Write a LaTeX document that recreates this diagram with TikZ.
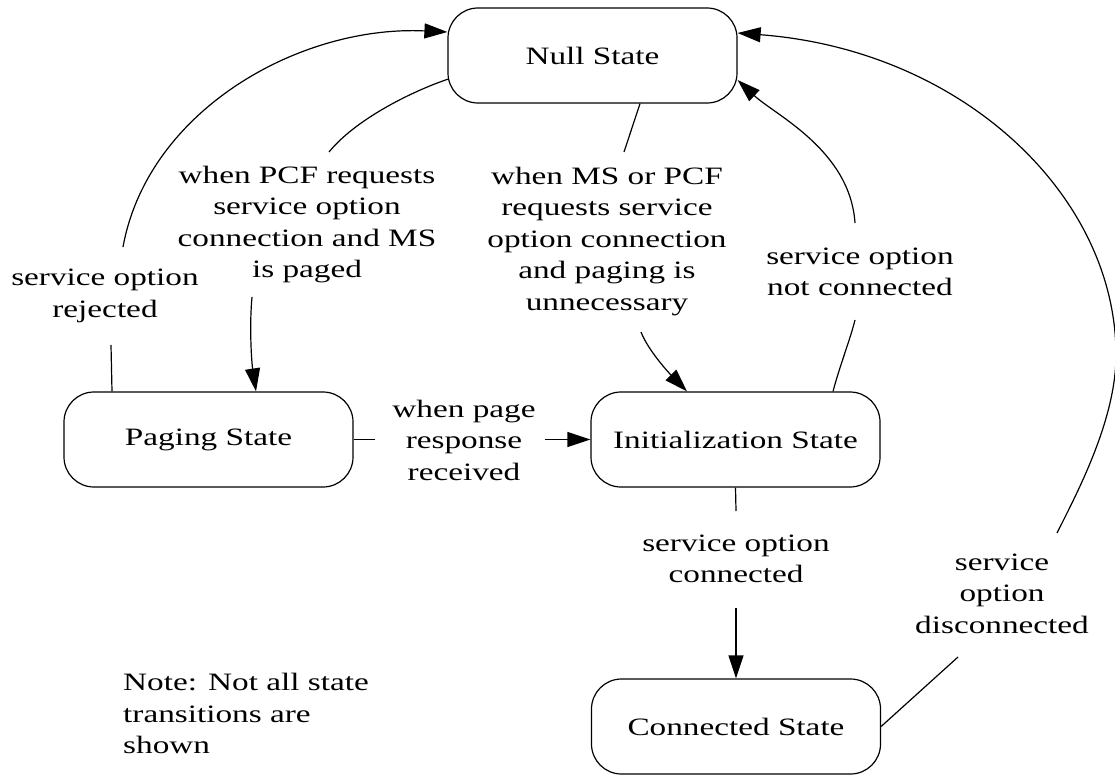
\documentclass[tikz,border=0pt]{standalone}
\usepackage{fontspec}
\setmainfont{Liberation Serif}[FakeStretch=1.33]
\usetikzlibrary{arrows.meta,calc}
\begin{document}
\begin{tikzpicture}[x=1pt,y=-1pt,
  every node/.style={font=\fontsize{25}{31.5}\selectfont},
  statebox/.style={draw, line width=1.2pt, rounded corners=30pt, minimum width=289pt, minimum height=95pt, inner sep=0pt},
  edge/.style={line width=1.2pt},
  arr/.style={edge, -{Triangle[length=23pt,width=15pt]}},
  lbl/.style={align=center, inner sep=0pt}]
\useasboundingbox (0,0) rectangle (1115,776);
% states
\node[statebox] (null) at (592.5,55.5) {Null State};
\node[statebox] (paging) at (208.5,439.5) {Paging State};
\node[statebox] (init) at (735.5,439.5) {Initialization State};
\node[statebox] (connected) at (736,726.5) {Connected State};
% labels
\node[lbl] (lrej) at (105,296) {service option\\rejected};
\node[lbl] (lpcf) at (307,224.5) {when PCF requests\\service option\\connection and MS\\is paged};
\node[lbl] (lpage) at (464,440) {when page\\response\\received};
\node[lbl] (lunn) at (607,241.5) {when MS or PCF\\requests service\\option connection\\and paging is\\unnecessary};
\node[lbl] (lnc) at (860,272) {service option\\not connected};
\node[lbl] (lcon) at (736,559) {service option\\connected};
\node[lbl] (ldis) at (1002,593.5) {service\\option\\disconnected};
\node[align=left, anchor=west, inner sep=0pt] (note) at (123,713.5) {Note: Not all state\\transitions are\\shown};
% free ends
\coordinate (rejL) at (111,345);
\coordinate (rejU) at (123,247);
\coordinate (pcfU) at (329,152);
\coordinate (pcfL) at (252,297);
\coordinate (pgR) at (375,439.5);
\coordinate (pgL) at (545,439.5);
\coordinate (unU) at (624,152);
\coordinate (unL) at (641,332);
\coordinate (ncL) at (855,320);
\coordinate (ncU) at (855,223);
\coordinate (cnU) at (736,511);
\coordinate (cnL) at (736,608);
\coordinate (dcL) at (958,657);
\coordinate (dcU) at (1057,533);
\coordinate (dcM) at (1116,355);
% service option rejected
\draw[edge] ($(paging.north)+(-96.5,0)$) -- (rejL);
\draw[arr] (rejU) .. controls (148,110) and (300,25) .. ($(null.west)+(0,-23.5)$);
% PCF requests, MS paged
\draw[edge] ($(null.west)+(1,23.5)$) .. controls (410,92) and (355,120) .. (pcfU);
\draw[arr] (pcfL) .. controls (249,330) and (252,365) .. ($(paging.north)+(47.5,0)$);
% page response
\draw[edge] (paging.east) -- (pgR);
\draw[arr] (pgL) -- (init.west);
% paging unnecessary
\draw[edge] ($(null.south)+(47.5,0)$) -- (unU);
\draw[arr] (unL) .. controls (648,350) and (668,372) .. ($(init.north)+(-48.5,0)$);
% not connected
\draw[edge] ($(init.north)+(97.5,0)$) .. controls (840,365) and (850,340) .. (ncL);
\draw[arr] (ncU) .. controls (850,150) and (775,115) .. ($(null.east)+(0,24.5)$);
% connected
\draw[edge] (init.south) -- (cnU);
\draw[arr] (cnL) -- (connected.north);
% disconnected
\draw[edge] (connected.east) -- (dcL);
\draw[arr] (dcU) .. controls (1077,493) and (1116,420) .. (dcM) .. controls (1116,195) and (962,50) .. ($(null.east)+(0,-22.5)$);
\end{tikzpicture}
\end{document}
